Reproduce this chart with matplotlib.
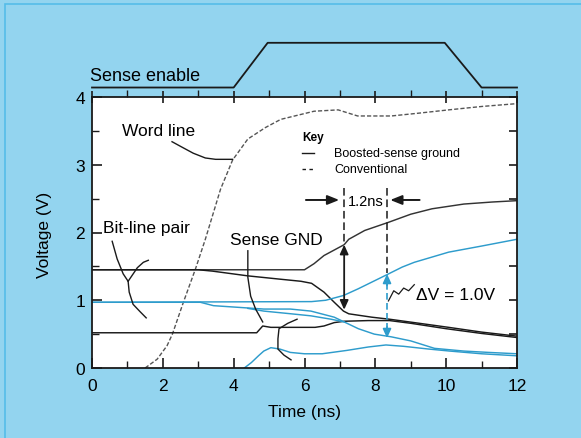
import numpy as np
import matplotlib
matplotlib.use('Agg')
import matplotlib.pyplot as plt
from matplotlib.patches import Rectangle
from matplotlib.ticker import MultipleLocator

plt.rcParams['font.family'] = ['Liberation Sans', 'DejaVu Sans']

# ---------------- data (time in ns, voltage in V) ----------------
sense_enable_t = [0.0, 4.0, 4.96, 9.96, 11.0, 12.0]
sense_enable_v = [4.14, 4.14, 4.80, 4.80, 4.14, 4.14]

word_t = [1.5, 1.84, 2.12, 2.27, 2.58, 2.92, 3.2, 3.63, 3.97, 4.4, 4.9, 5.33, 6.27, 6.95, 7.5, 8.45, 9.2, 10.07, 11.0, 11.95]
word_v = [0.0, 0.13, 0.33, 0.5, 0.97, 1.46, 1.9, 2.64, 3.07, 3.38, 3.55, 3.67, 3.79, 3.81, 3.72, 3.72, 3.76, 3.81, 3.86, 3.9]

# boosted-sense ground scheme (black)
bl_high_t = [0.0, 6.0, 6.27, 6.55, 7.12, 7.25, 7.7, 8.37, 9.0, 9.6, 10.5, 11.3, 12.0]
bl_high_v = [1.45, 1.45, 1.54, 1.66, 1.82, 1.9, 2.03, 2.15, 2.27, 2.35, 2.42, 2.45, 2.47]

bl_low_t = [0.0, 3.0, 3.4, 4.4, 5.33, 5.9, 6.2, 6.55, 6.84, 7.1, 7.25, 7.9, 8.4, 9.1, 10.07, 11.0, 12.0]
bl_low_v = [1.45, 1.45, 1.43, 1.36, 1.31, 1.28, 1.25, 1.12, 0.97, 0.84, 0.80, 0.75, 0.72, 0.67, 0.60, 0.53, 0.47]

sgnd_t = [0.0, 4.65, 4.82, 5.05, 6.3, 6.55, 6.84, 7.12, 7.8, 8.4, 9.0, 10.0, 11.0, 12.0]
sgnd_v = [0.52, 0.52, 0.62, 0.60, 0.60, 0.62, 0.67, 0.69, 0.70, 0.70, 0.66, 0.58, 0.51, 0.45]

# conventional scheme (cyan)
cbl_high_t = [0.0, 6.2, 6.6, 7.1, 7.52, 8.26, 8.76, 9.1, 10.07, 11.0, 12.0]
cbl_high_v = [0.97, 0.98, 1.0, 1.07, 1.17, 1.36, 1.49, 1.56, 1.71, 1.80, 1.90]

cbl_low_t = [0.0, 3.06, 3.43, 4.0, 4.85, 5.6, 6.18, 6.84, 7.12, 7.52, 7.97, 8.45, 9.0, 9.67, 10.5, 11.2, 12.0]
cbl_low_v = [0.97, 0.97, 0.92, 0.90, 0.87, 0.87, 0.84, 0.75, 0.68, 0.58, 0.50, 0.46, 0.40, 0.29, 0.25, 0.23, 0.21]

cbl_low2_t = [4.4, 4.85, 5.62, 6.18, 6.75, 7.12]
cbl_low2_v = [0.88, 0.84, 0.80, 0.77, 0.72, 0.68]

csgnd_t = [4.3, 4.5, 4.7, 4.85, 5.05, 5.3, 5.6, 6.0, 6.5, 7.2, 7.8, 8.3, 8.8, 9.5, 10.1, 11.0, 12.0]
csgnd_v = [0.0, 0.08, 0.18, 0.25, 0.30, 0.28, 0.23, 0.21, 0.21, 0.26, 0.31, 0.34, 0.32, 0.28, 0.25, 0.21, 0.18]

x_ticks = [0, 2, 4, 6, 8, 10, 12]
y_ticks = [0, 1, 2, 3, 4]

# ---------------- styling ----------------
BG = '#93D4EF'
BLACK = '#1a1a1a'
CYAN = '#2e9ccc'
GREY = '#555555'
LW = 1.05

fig = plt.figure(figsize=(5.81, 4.39), dpi=100)
fig.patch.set_facecolor(BG)
fig.add_artist(Rectangle((5 / 581, -0.02), 1.1, 1 - 5 / 439 + 0.02, transform=fig.transFigure,
                         fill=False, edgecolor='#55BCE8', lw=1.2))

ax = fig.add_axes([92 / 581, 1 - 369 / 439, 425 / 581, 271 / 439])
axt = ax.twiny()
axr = ax.twinx()
ax.set_facecolor('white')
ax.set_xlim(0, 12)
ax.set_ylim(0, 4)
axt.set_xlim(0, 12)
axr.set_ylim(0, 4)

for s in ax.spines.values():
    s.set_linewidth(1.3)
    s.set_color(BLACK)
for a in (axt, axr):
    for s in a.spines.values():
        s.set_visible(False)

ax.set_xticks(x_ticks)
ax.set_yticks(y_ticks)
ax.xaxis.set_minor_locator(MultipleLocator(1))
ax.yaxis.set_minor_locator(MultipleLocator(0.5))
ax.tick_params(which='both', direction='in', color=BLACK, labelsize=12.5, labelcolor='black')
ax.tick_params(which='major', length=7, width=1.2)
ax.tick_params(which='minor', length=5, width=1.0)
ax.tick_params(axis='x', pad=7)
ax.tick_params(axis='y', pad=5)

axt.set_xticks(x_ticks)
axt.xaxis.set_minor_locator(MultipleLocator(1))
axt.tick_params(axis='x', which='major', direction='inout', length=9, width=1.2, labeltop=False, color=BLACK)
axt.tick_params(axis='x', which='minor', direction='out', length=5, width=1.0, color=BLACK)

axr.yaxis.set_major_locator(MultipleLocator(0.5))
axr.tick_params(axis='y', which='major', direction='in', length=6, width=1.2, labelright=False, color=BLACK)

fig.text(45 / 581, 1 - 235 / 439, 'Voltage (V)', rotation=90, ha='center', va='center', fontsize=12.5)
fig.text(305 / 581, 1 - 413 / 439, 'Time (ns)', ha='center', va='center', fontsize=12.5)

# ---------------- curves ----------------
ax.plot(sense_enable_t, sense_enable_v, color=BLACK, lw=1.3, clip_on=False)
ax.plot(word_t, word_v, color=GREY, lw=1.0, ls=(0, (3, 1.5)))

ax.plot(bl_high_t, bl_high_v, color='#333333', lw=LW)
ax.plot(bl_low_t, bl_low_v, color=BLACK, lw=LW)
ax.plot(sgnd_t, sgnd_v, color=BLACK, lw=LW)

ax.plot(cbl_high_t, cbl_high_v, color=CYAN, lw=LW)
ax.plot(cbl_low_t, cbl_low_v, color=CYAN, lw=LW)
ax.plot(cbl_low2_t, cbl_low2_v, color=CYAN, lw=LW)
ax.plot(csgnd_t, csgnd_v, color=CYAN, lw=LW)

# ---------------- annotations ----------------
fs = 12.5
ax.text(-0.06, 4.32, 'Sense enable', fontsize=13, ha='left', va='center', clip_on=False)
ax.text(0.85, 3.51, 'Word line', fontsize=fs, ha='left', va='center')
ax.text(0.31, 2.08, 'Bit-line pair', fontsize=fs, ha='left', va='center')
ax.text(3.91, 1.90, 'Sense GND', fontsize=fs, ha='left', va='center')

# key
ax.text(5.93, 3.41, 'Key', fontsize=8.5, fontweight='bold', ha='left', va='center')
ax.plot([5.93, 6.27], [3.17, 3.17], color=BLACK, lw=1.0)
ax.plot([5.93, 6.27], [2.94, 2.94], color=BLACK, lw=1.0, ls=(0, (2.5, 2.5)))
ax.text(6.84, 3.17, 'Boosted-sense ground', fontsize=9, ha='left', va='center')
ax.text(6.84, 2.94, 'Conventional', fontsize=9, ha='left', va='center')

# leader lines
lk = dict(color=BLACK, lw=1.0, zorder=4)
ax.plot([2.26, 2.54, 2.86, 3.2, 3.49, 3.97], [3.34, 3.26, 3.17, 3.1, 3.08, 3.08], **lk)
ax.plot([0.57, 0.71, 0.88, 1.02, 1.05, 1.16, 1.36, 1.53], [1.87, 1.61, 1.39, 1.28, 1.12, 0.94, 0.83, 0.74], **lk)
ax.plot([1.02, 1.28, 1.45, 1.59], [1.28, 1.48, 1.56, 1.59], **lk)
ax.plot([4.4, 4.4, 4.48, 4.62, 4.82], [1.73, 1.34, 1.06, 0.87, 0.68], **lk)
ax.plot([5.79, 5.53, 5.28, 5.25, 5.25, 5.42, 5.62], [0.72, 0.66, 0.58, 0.43, 0.28, 0.19, 0.12], **lk)

# 1.2 ns markers
ax.plot([7.12, 7.12], [2.66, 1.82], color=BLACK, lw=1.1, ls=(0, (5, 2.5)), zorder=4)
ax.plot([8.33, 8.33], [2.66, 1.40], color=BLACK, lw=1.1, ls=(0, (5, 2.5)), zorder=4)
ax.annotate('', xy=(6.98, 2.48), xytext=(6.04, 2.48),
            arrowprops=dict(arrowstyle='-|>,head_length=0.7,head_width=0.28', color=BLACK, lw=1.4,
                            shrinkA=0, shrinkB=0), zorder=5)
ax.annotate('', xy=(8.42, 2.48), xytext=(9.25, 2.48),
            arrowprops=dict(arrowstyle='-|>,head_length=0.7,head_width=0.28', color=BLACK, lw=1.4,
                            shrinkA=0, shrinkB=0), zorder=5)
ax.text(7.72, 2.47, '1.2ns', fontsize=10.5, ha='center', va='center', zorder=6)

# black delta-V arrow
ax.annotate('', xy=(7.12, 1.82), xytext=(7.12, 0.86),
            arrowprops=dict(arrowstyle='<|-|>,head_length=0.55,head_width=0.25', color=BLACK, lw=1.3,
                            shrinkA=0, shrinkB=0), zorder=5)

# cyan delta-V arrow (dashed)
ax.plot([8.33, 8.33], [1.25, 0.58], color=CYAN, lw=1.2, ls=(0, (4, 2)), zorder=5)
ax.annotate('', xy=(8.33, 1.39), xytext=(8.33, 1.22),
            arrowprops=dict(arrowstyle='-|>,head_length=0.55,head_width=0.25', color=CYAN, lw=1.2,
                            shrinkA=0, shrinkB=0), zorder=5)
ax.annotate('', xy=(8.33, 0.44), xytext=(8.33, 0.61),
            arrowprops=dict(arrowstyle='-|>,head_length=0.55,head_width=0.25', color=CYAN, lw=1.2,
                            shrinkA=0, shrinkB=0), zorder=5)

# squiggle leader to delta-V text
ax.plot([8.37, 8.52, 8.66, 8.8, 8.94, 9.1], [0.99, 1.14, 1.09, 1.18, 1.14, 1.23], color=BLACK, lw=0.9, zorder=5)
ax.text(9.16, 1.08, '\u0394V = 1.0V', fontsize=fs, ha='left', va='center')

fig.savefig('out.png', dpi=100, facecolor=BG)
